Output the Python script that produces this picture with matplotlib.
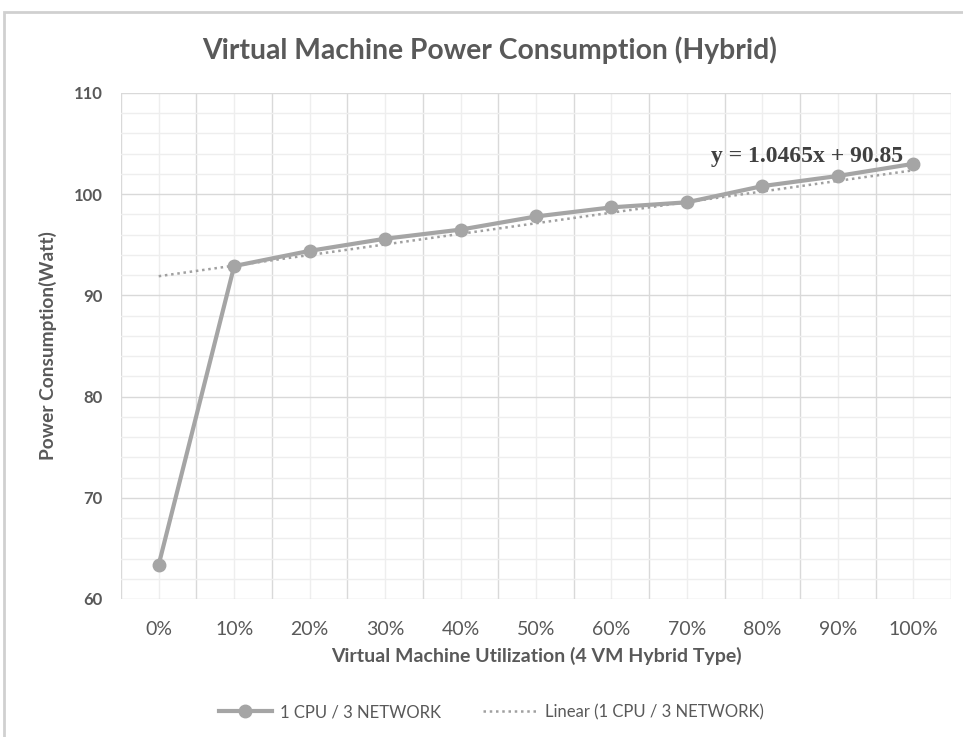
import numpy as np
import matplotlib.pyplot as plt
from matplotlib.patches import Rectangle

# utilization levels and measured power (Watt)
labels = ['0%', '10%', '20%', '30%', '40%', '50%', '60%', '70%', '80%', '90%', '100%']
power = [63.4, 92.9, 94.4, 95.6, 96.5, 97.8, 98.7, 99.2, 100.8, 101.8, 103.0]

# linear trendline as reported on the chart: y = a*x + b, x = 1..11
slope = 1.0465
intercept = 90.85

plt.rcParams['font.family'] = ['Lato', 'DejaVu Sans']

fig = plt.figure(figsize=[9.63, 7.37], dpi=100)
fig.patch.set_facecolor('white')

# chart frame
fig.add_artist(Rectangle((4/963, -0.01), 1.0, 1 - 12/737 + 0.01, transform=fig.transFigure,
                         facecolor='white', edgecolor='#d0d0d0', linewidth=2, zorder=0))

ax = fig.add_axes([121/963, 1 - 599/737, (951-121)/963, (599-93)/737])
ax.set_facecolor('white')

x = np.arange(len(labels))
xi = x + 1
trend = slope * xi + intercept

ax.plot(x, trend, linestyle=(0, (1, 1.5)), color='#a0a0a0', linewidth=1.8, zorder=3,
        label='Linear (1 CPU / 3 NETWORK)')
ax.plot(x, power, color='#a5a5a5', linewidth=3, marker='o', markersize=9, zorder=4,
        label='1 CPU / 3 NETWORK')

ax.set_xlim(-0.5, len(labels) - 0.5)
ax.set_ylim(60, 110)
ax.set_yticks(np.arange(60, 111, 10))
ax.set_yticks(np.arange(60, 111, 2), minor=True)
ax.set_xticks(x)
ax.set_xticklabels(labels)

# category gridlines: darker ones between categories, light ones at centres
ax.grid(which='major', axis='y', color='#d9d9d9', linewidth=1)
ax.grid(which='minor', axis='y', color='#eeeeee', linewidth=1)
ax.grid(which='major', axis='x', color='#eeeeee', linewidth=1)
for b in np.arange(-0.5, len(labels), 1):
    ax.axvline(b, color='#d9d9d9', linewidth=1, zorder=0.5)
ax.set_axisbelow(True)
for s in ax.spines.values():
    s.set_visible(False)
ax.tick_params(which='both', length=0)
ax.tick_params(axis='x', labelsize=14, labelcolor='#595959', pad=16)
ax.tick_params(axis='y', labelsize=12, labelcolor='#595959', pad=13)
for t in ax.get_yticklabels():
    t.set_fontweight('bold')

ax.set_xlabel('Virtual Machine Utilization (4 VM Hybrid Type)', fontsize=14, fontweight='bold',
              color='#595959', labelpad=6)
ax.set_ylabel('Power Consumption(Watt)', fontsize=13.8, fontweight='bold', color='#595959',
              labelpad=12)

fig.text(0.508, 1 - 50/737, 'Virtual Machine Power Consumption (Hybrid)', ha='center', va='center',
         fontsize=20.3, color='#595959', fontweight='bold')

ax.text(8.59, 103.7, 'y = %.4fx + %.2f' % (slope, intercept), ha='center', va='center',
        fontsize=17, fontweight='bold', color='#404040', family='Liberation Serif')

h, l = ax.get_legend_handles_labels()
fig.legend(h[::-1], l[::-1], loc='center', bbox_to_anchor=(0.51, 1 - 712/737), ncol=2, frameon=False,
           fontsize=12, labelcolor='#595959', handlelength=3.2, handletextpad=0.5, columnspacing=2.5)

fig.savefig('out.png', dpi=100)
